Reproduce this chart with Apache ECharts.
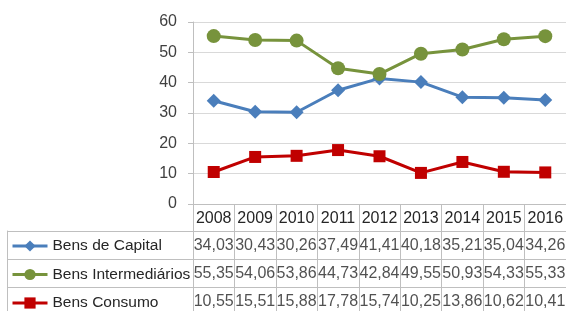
<!DOCTYPE html>
<html>
<head>
<meta charset="utf-8">
<script src="https://cdn.jsdelivr.net/npm/echarts@6/dist/echarts.min.js"></script>
<style>
  html, body { margin: 0; padding: 0; background: #fff; }
  #chart { width: 566px; height: 311px; }
</style>
</head>
<body>
<div id="chart"></div>
<script type="text/javascript">

var anos = ['2008', '2009', '2010', '2011', '2012', '2013', '2014', '2015', '2016'];
var nomes = ['Bens de Capital', 'Bens Intermediários', 'Bens Consumo'];
var bensCapital = [34.03, 30.43, 30.26, 37.49, 41.41, 40.18, 35.21, 35.04, 34.26];
var bensIntermediarios = [55.35, 54.06, 53.86, 44.73, 42.84, 49.55, 50.93, 54.33, 55.33];
var bensConsumo = [10.55, 15.51, 15.88, 17.78, 15.74, 10.25, 13.86, 10.62, 10.41];
var yTicks = [0, 10, 20, 30, 40, 50, 60];

var cores = ['#4A7EBB', '#77933C', '#C00000'];
var simbolos = ['diamond', 'circle', 'rect'];
var tamanhos = [14, 14, 12];
var valores = [bensCapital, bensIntermediarios, bensConsumo];
var fonte = 'Liberation Sans';
var borda = '#BFBFBF';
var texto = '#262626';

var chart = echarts.init(document.getElementById('chart'));

// linhas do gráfico
var series = [];
for (var s = 0; s < nomes.length; s++) {
    series.push({
        name: nomes[s],
        type: 'line',
        xAxisIndex: 0,
        yAxisIndex: 0,
        data: valores[s],
        symbol: simbolos[s],
        symbolSize: tamanhos[s],
        lineStyle: { width: 3, color: cores[s] },
        itemStyle: { color: cores[s] },
        z: 3 + s
    });
}

// valores da tabela
var celulas = [];
for (var s = 0; s < nomes.length; s++) {
    for (var i = 0; i < anos.length; i++) {
        celulas.push([anos[i], nomes[s], valores[s][i]]);
    }
}
series.push({
    name: 'tabela',
    type: 'scatter',
    xAxisIndex: 1,
    yAxisIndex: 1,
    data: celulas,
    symbolSize: 1,
    itemStyle: { color: 'rgba(0,0,0,0)' },
    silent: true,
    label: {
        show: true,
        position: 'inside',
        color: texto,
        fontFamily: fonte,
        fontSize: 16,
        formatter: function (p) { return p.value[2].toFixed(2).replace('.', ','); }
    }
});

// uma legenda por linha da tabela
var legendas = [];
var linhaTopo = [238, 266.5, 295];
for (var s = 0; s < nomes.length; s++) {
    legendas.push({
        data: [nomes[s]],
        left: 11,
        top: linhaTopo[s],
        padding: 0,
        itemWidth: 35,
        itemHeight: 14,
        itemGap: 4,
        selectedMode: false,
        lineStyle: { width: 3 },
        textStyle: { fontFamily: fonte, fontSize: 15.5, color: texto }
    });
}

var option = {
    animation: false,
    backgroundColor: '#fff',
    textStyle: { fontFamily: fonte },
    legend: legendas,
    grid: [
        { left: 193, right: 0, top: 22, height: 182, outerBoundsMode: 'none' },
        { left: 193, right: 0, top: 231, height: 85, outerBoundsMode: 'none' }
    ],
    xAxis: [
        {
            type: 'category',
            gridIndex: 0,
            data: anos,
            boundaryGap: true,
            axisLine: { lineStyle: { color: borda, width: 1 } },
            axisTick: { show: true, interval: 0, length: 112, lineStyle: { color: borda } },
            axisLabel: { interval: 0, color: texto, fontSize: 16, margin: 7, fontFamily: fonte }
        },
        {
            type: 'category',
            gridIndex: 1,
            data: anos,
            show: false
        }
    ],
    yAxis: [
        {
            type: 'value',
            gridIndex: 0,
            min: 0,
            max: 60,
            interval: 10,
            axisLine: { show: true, lineStyle: { color: borda } },
            axisTick: { show: true, length: 5, lineStyle: { color: borda } },
            axisLabel: { color: '#404040', fontSize: 16, margin: 16, fontFamily: fonte,
                formatter: function (v) { return yTicks.indexOf(v) >= 0 ? String(v) : ''; } },
            splitLine: { lineStyle: { color: '#D9D9D9' } }
        },
        {
            type: 'category',
            gridIndex: 1,
            data: nomes,
            inverse: true,
            axisLine: { show: true, lineStyle: { color: borda } },
            axisTick: { show: true, interval: 0, length: 186, lineStyle: { color: borda } },
            axisLabel: { show: false, interval: 0 },
            splitLine: { show: true, interval: 0, lineStyle: { color: borda } }
        },
        {
            type: 'category',
            gridIndex: 1,
            data: nomes,
            inverse: true,
            position: 'left',
            offset: 186,
            axisLine: { show: true, lineStyle: { color: borda } },
            axisTick: { show: false },
            axisLabel: { show: false },
            splitLine: { show: false }
        }
    ],
    series: series
};

chart.setOption(option);

</script>
</body>
</html>
